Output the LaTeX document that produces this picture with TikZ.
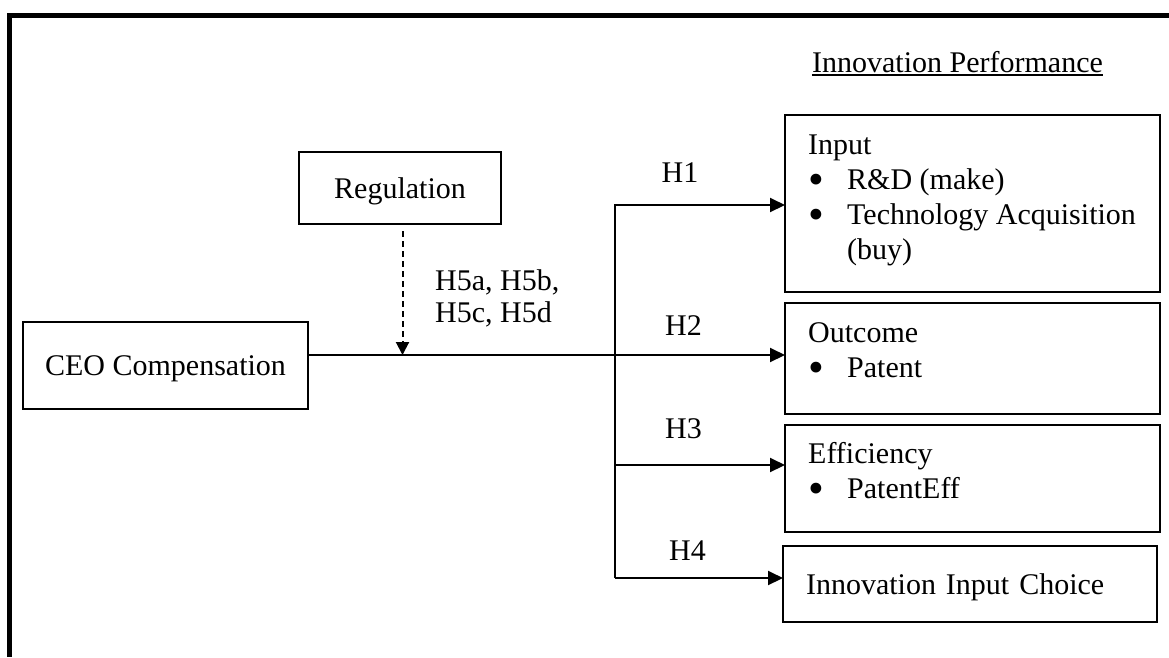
\documentclass[tikz,border=0pt]{standalone}
\usepackage{fontspec}
\usepackage{graphicx}
\setmainfont{Liberation Serif}
\usetikzlibrary{arrows.meta,calc}
\newcommand{\mybullet}{\makebox[39pt][l]{\hspace{0.5pt}\smash{\raisebox{-5pt}{\scalebox{1.5}{\textbullet}}}}}
\begin{document}
\begin{tikzpicture}[x=1pt,y=-1pt,
  font=\fontsize{30}{35}\selectfont,
  box/.style={draw, line width=1.8pt, rectangle, inner sep=0pt, outer sep=0pt, text depth=0pt},
  lbl/.style={inner sep=0pt, anchor=base},
  txt/.style={inner sep=0pt, anchor=base west},
  conn/.style={line width=2pt},
  arr/.style={conn, -{Triangle[length=15pt,width=14pt]}},
  darr/.style={conn, dash pattern=on 6pt off 4pt, -{Triangle[length=13pt,width=13pt]}}]
\useasboundingbox (0,0) rectangle (1169,657);
% outer frame (only top and left edges visible)
\draw[line width=5pt] (1169,15) -- (9,15) -- (9,657);

% boxes
\node[box, minimum width=202, minimum height=72] (reg) at (400,188) {Regulation};
\node[box, minimum width=285, minimum height=87] (ceo) at (165.5,365.5) {CEO Compensation};
\node[box, minimum width=375, minimum height=177] (input) at (972.5,203.5) {};
\node[box, minimum width=375, minimum height=111] (outcome) at (972.5,358.5) {};
\node[box, minimum width=375, minimum height=107] (eff) at (972.5,478.5) {};
\node[box, minimum height=76, text width=328, inner xsep=23, align=left] (choice) at (970,584) {Innovation Input Choice};

% box texts
\node[txt] (inputtxt) at (808,154) {\begin{tabular}[t]{@{}l@{}}Input\\ \mybullet R\&D (make)\\ \mybullet Technology Acquisition\\ \hspace{39pt}(buy)\end{tabular}};
\node[txt] (outtxt) at (808,342.5) {\begin{tabular}[t]{@{}l@{}}Outcome\\ \mybullet Patent\end{tabular}};
\node[txt] (efftxt) at (808,463.5) {\begin{tabular}[t]{@{}l@{}}Efficiency\\ \mybullet PatentEff\end{tabular}};

% heading
\node[lbl] (perf) at (957.5,72) {Innovation Performance};
\draw[line width=1.6pt] ([yshift=-3pt]perf.base west) -- ([yshift=-3pt]perf.base east);

% hypothesis labels
\node[lbl] (h1) at (680,182) {H1};
\node[lbl] (h2) at (683.5,335) {H2};
\node[lbl] (h3) at (683.5,438) {H3};
\node[lbl] (h4) at (687.5,560) {H4};
\node[txt] (h5) at (435,290) {\begin{tabular}[t]{@{}l@{}}H5a, H5b,\\[-3pt] H5c, H5d\end{tabular}};

% connectors
\coordinate (j) at (615,355);
\coordinate (b1) at (615,205);
\coordinate (b3) at (615,465);
\coordinate (b4) at (615,578);
\coordinate (mod) at (402.5,355);
\draw[conn] (ceo.east |- j) -- (j);
\draw[arr] (b4) -- (b1) -- (b1 -| input.west);
\draw[arr] (j) -- (j -| outcome.west);
\draw[arr] (b3) -- (b3 -| eff.west);
\draw[arr] (b4) -- (b4 -| choice.west);
\draw[darr] ($(reg.south -| mod)+(0,7)$) -- (mod);
\end{tikzpicture}
\end{document}
